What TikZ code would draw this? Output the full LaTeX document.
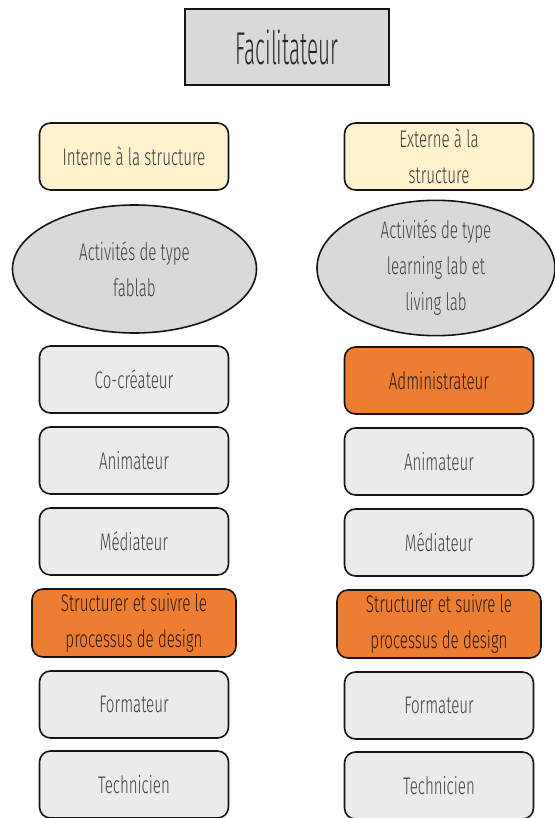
\documentclass[tikz,border=0pt]{standalone}
\usepackage{fontspec}
\setmainfont{Fira Sans Light}[FakeStretch=0.63]
\newfontfamily\headfont{Fira Sans Light}[FakeStretch=0.45]
\usetikzlibrary{shapes.geometric}
\definecolor{boxgray}{HTML}{EBEBEB}
\definecolor{ellgray}{HTML}{D9D9D9}
\definecolor{headgray}{HTML}{D9D9D9}
\definecolor{cream}{HTML}{FFF2CC}
\definecolor{orangefill}{HTML}{ED7D31}
\definecolor{txtgray}{HTML}{404040}
\definecolor{txtdark}{HTML}{2A1608}
\definecolor{edge}{HTML}{151515}
\begin{document}
\begin{tikzpicture}[x=1pt,y=-1pt,
  base/.style={draw=edge, line width=1.6pt, align=center, inner sep=0pt,
    font=\fontsize{24}{36}\selectfont},
  rolebox/.style={base, rectangle, rounded corners=11pt, fill=boxgray,
    text=txtgray, minimum width=189pt, minimum height=67pt},
  orangebox/.style={rolebox, fill=orangefill, text=txtdark},
  creambox/.style={rolebox, fill=cream, text=txtgray!90!black},
  actell/.style={base, ellipse, fill=ellgray, text=txtgray},
  headbox/.style={draw=edge, line width=2.4pt, fill=headgray, rectangle,
    minimum width=204pt, minimum height=76pt, text=black!85,
    font=\headfont\fontsize{46}{50}\selectfont}
]
\useasboundingbox (0,0) rectangle (554,818);

\node[headbox] (fac) at (287,47) {Facilitateur};

% left column
\node[creambox] (int) at (134,156.5) {Interne à la structure};
\node[actell, minimum width=244pt, minimum height=128pt] (fab) at (134.5,269) {Activités de type\\fablab};
\node[rolebox] (cocr) at (134,379.5) {Co-créateur};
\node[rolebox] (aniL) at (134,460.5) {Animateur};
\node[rolebox] (medL) at (134,541.5) {Médiateur};
\node[orangebox, minimum width=204pt, minimum height=68pt] (strL) at (134,623) {Structurer et suivre le\\processus de design};
\node[rolebox] (forL) at (134,704.5) {Formateur};
\node[rolebox] (tecL) at (134,784.5) {Technicien};

% right column
\node[creambox] (ext) at (439,156.5) {Externe à la\\structure};
\node[actell, minimum width=238pt, minimum height=130pt] (lab) at (436,268) {Activités de type\\learning lab et\\living lab};
\node[orangebox] (adm) at (439,380.5) {Administrateur};
\node[rolebox] (aniR) at (439,461.5) {Animateur};
\node[rolebox] (medR) at (439,542.5) {Médiateur};
\node[orangebox, minimum width=204pt, minimum height=68pt] (strR) at (439,624) {Structurer et suivre le\\processus de design};
\node[rolebox] (forR) at (439,705.5) {Formateur};
\node[rolebox] (tecR) at (439,785.5) {Technicien};
\end{tikzpicture}
\end{document}
